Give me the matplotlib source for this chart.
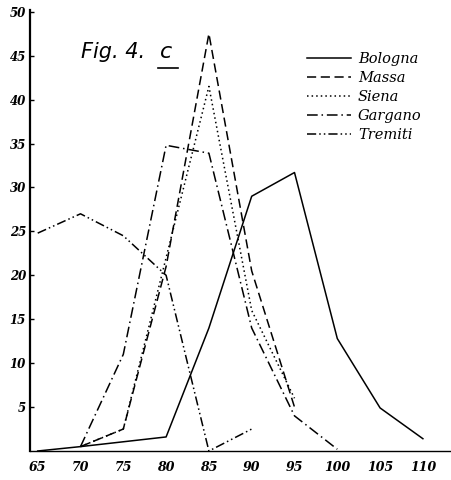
import numpy as np
import matplotlib
matplotlib.use('Agg')
import matplotlib.pyplot as plt

# values (percent per size class)
x_bologna = [65, 70, 80, 85, 90, 95, 100, 105, 110]
bologna = [0, 0.5, 1.6, 14, 29, 31.7, 12.8, 4.9, 1.4]

x_massa = [70, 75, 80, 85, 90, 95]
massa = [0.5, 2.5, 21, 47.5, 20.5, 5]

x_siena = [70, 75, 80, 85, 90, 95]
siena = [0.5, 2.5, 22, 41.5, 16, 6]

x_gargano = [70, 75, 80, 85, 90, 95, 100]
gargano = [0.5, 11, 34.8, 33.9, 14, 4, 0.2]

x_tremiti = [65, 70, 75, 80, 85, 90]
tremiti = [24.8, 27, 24.5, 20, 0, 2.5]

xticks = [65, 70, 75, 80, 85, 90, 95, 100, 105, 110]
yticks = [5, 10, 15, 20, 25, 30, 35, 40, 45, 50]

fig = plt.figure(figsize=(4.52, 4.80), dpi=100)
ax = fig.add_axes([30/452, 1-451/480, 422/452, 441/480])

lw = 1.1
ax.plot(x_bologna, bologna, color='black', lw=lw, label='Bologna')
ax.plot(x_massa, massa, color='black', lw=lw, dashes=(6, 3), label='Massa')
ax.plot(x_siena, siena, color='black', lw=lw, dashes=(1, 2), label='Siena')
ax.plot(x_gargano, gargano, color='black', lw=lw, dashes=(7, 2.5, 1, 2.5), label='Gargano')
ax.plot(x_tremiti, tremiti, color='black', lw=lw, dashes=(6, 2, 1, 2, 1, 2), label='Tremiti')

ax.set_xlim(64.1, 113.4)
ax.set_ylim(0, 50.2)
ax.set_xticks(xticks)
ax.set_xticklabels([str(t) for t in xticks], fontstyle='italic', fontweight='bold',
                   family='DejaVu Serif', fontsize=9)
ax.set_yticks(yticks)
ax.set_yticklabels([str(t) for t in yticks], fontstyle='italic', fontweight='bold',
                   family='DejaVu Serif', fontsize=8.5)
ax.tick_params(axis='y', direction='in', length=3, width=1, pad=3)
ax.tick_params(axis='x', length=0, pad=7)
for s in ['top', 'right']:
    ax.spines[s].set_visible(False)
ax.spines['left'].set_linewidth(1.6)
ax.spines['bottom'].set_linewidth(1.0)

ax.text(0.12, 0.905, 'Fig. 4.', transform=ax.transAxes, fontsize=15,
        fontstyle='italic', family='DejaVu Sans', va='center')
ax.text(0.308, 0.905, 'c', transform=ax.transAxes, fontsize=16,
        fontstyle='italic', family='DejaVu Sans', va='center')
ax.plot([0.303, 0.35], [0.868, 0.868], transform=ax.transAxes, color='black', lw=1.2)

leg = ax.legend(loc='upper left', bbox_to_anchor=(0.625, 0.935), frameon=False,
                handlelength=3.0, handletextpad=0.5, labelspacing=0.35,
                prop={'style': 'italic', 'family': 'DejaVu Serif', 'size': 10.5})

fig.savefig('out.png', dpi=100)
